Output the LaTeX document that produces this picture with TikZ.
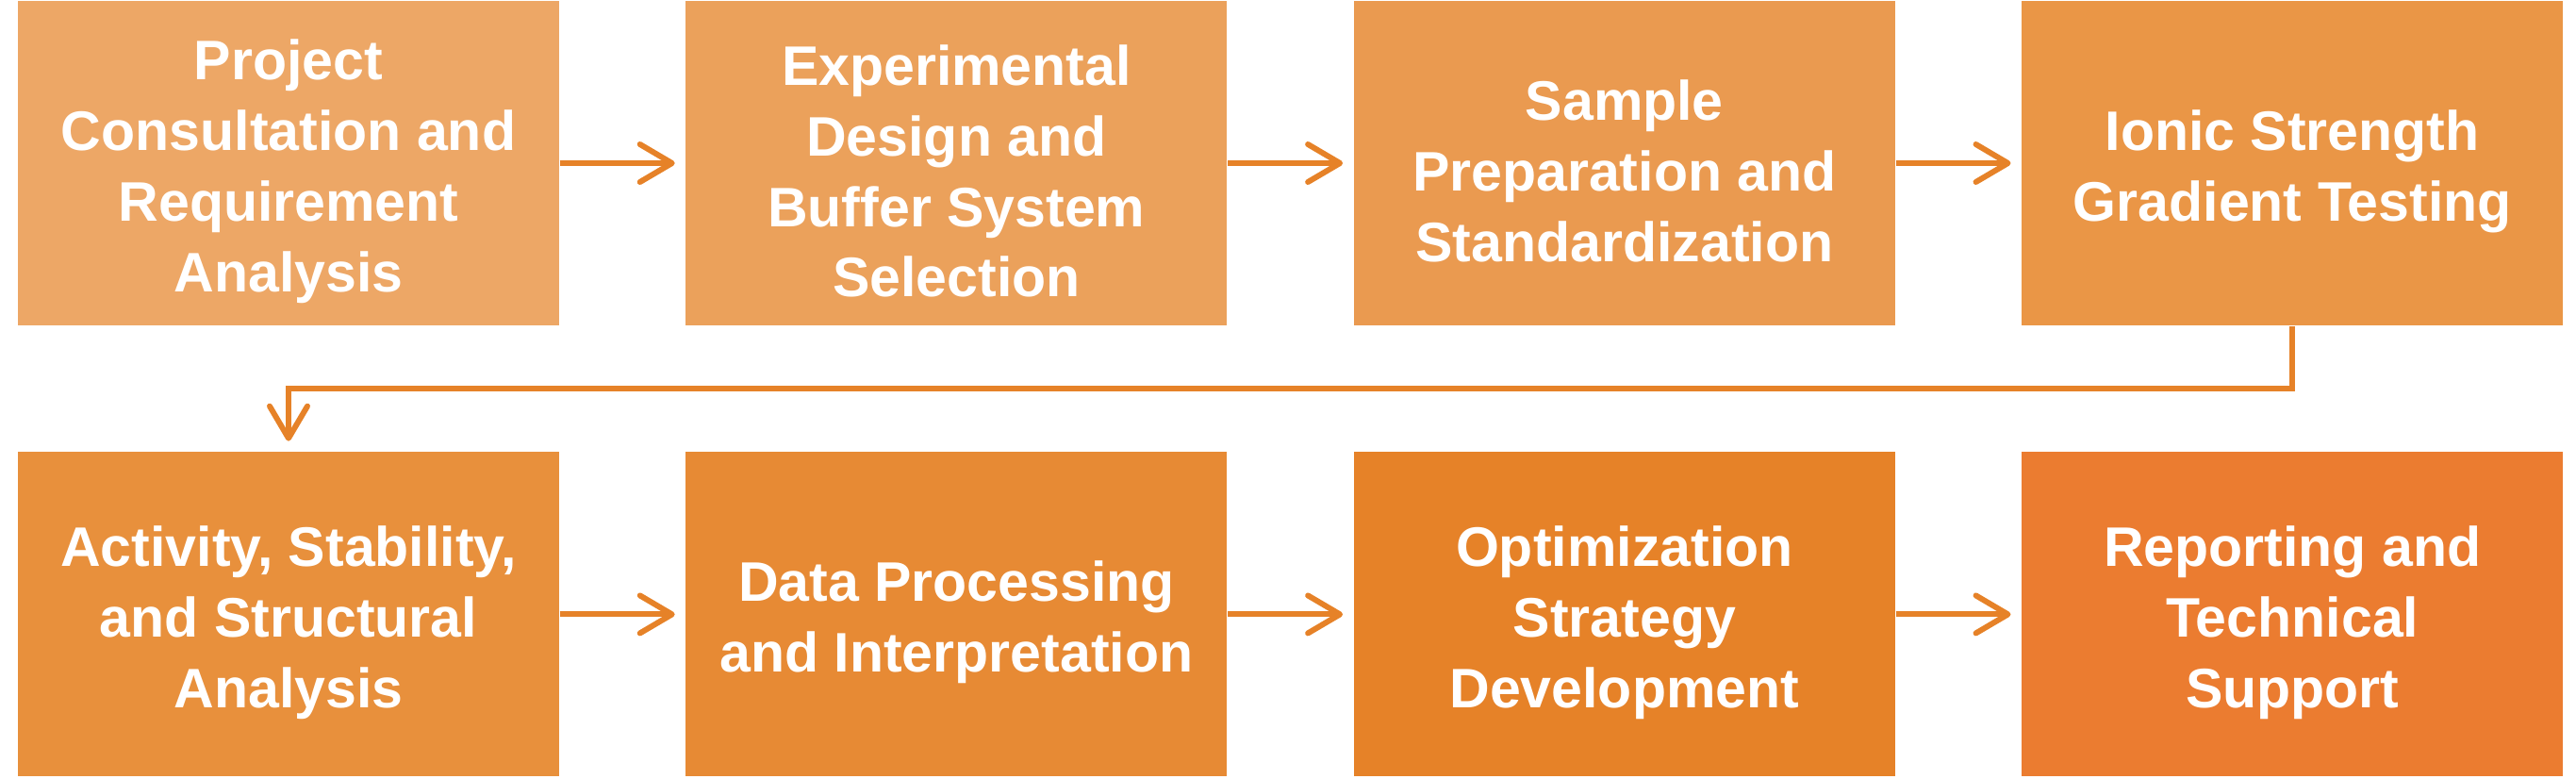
\documentclass[tikz,border=0pt]{standalone}
\usepackage{fontspec}
\setmainfont{Liberation Sans}
\usepackage{xcolor}
\usepackage{tikz}
\usetikzlibrary{arrows.meta,positioning}

\definecolor{boxA}{RGB}{237,167,102}
\definecolor{boxB}{RGB}{235,161,91}
\definecolor{boxC}{RGB}{234,154,80}
\definecolor{boxD}{RGB}{234,150,70}
\definecolor{boxE}{RGB}{232,144,60}
\definecolor{boxF}{RGB}{231,138,52}
\definecolor{boxG}{RGB}{230,130,40}
\definecolor{boxH}{RGB}{235,124,48}
\definecolor{arrowc}{RGB}{230,130,40}

\begin{document}
\begin{tikzpicture}[node distance=1.33cm,
box/.style={minimum width=5.74cm,minimum height=3.44cm,inner sep=0pt,align=center,text=white,
  font=\fontsize{16.8}{21.3}\selectfont\bfseries},
flow/.style={-{Straight Barb[length=0.34cm,width=0.4cm,line cap=round,line join=round]},arrowc,line width=1.7pt,shorten >=0.11cm}]
\useasboundingbox (0,0) rectangle (27.32,-8.25);
\node[box,fill=boxA] (consult) at (3.06,-1.73) {\rule{0pt}{17pt}Project\\Consultation and\\Requirement\\Analysis};
\node[box,fill=boxB,right=of consult] (design) {\rule{0pt}{17pt}Experimental\\Design and\\Buffer System\\Selection};
\node[box,fill=boxC,right=of design] (prep) {\rule{0pt}{17pt}Sample\\Preparation and\\Standardization};
\node[box,fill=boxD,right=of prep] (ionic) {\rule{0pt}{17pt}Ionic Strength\\Gradient Testing};
\node[box,fill=boxE,below=of consult] (activity) {\rule{0pt}{17pt}Activity, Stability,\\and Structural\\Analysis};
\node[box,fill=boxF,right=of activity] (data) {\rule{0pt}{17pt}Data Processing\\and Interpretation};
\node[box,fill=boxG,right=of data] (optim) {\rule{0pt}{17pt}Optimization\\Strategy\\Development};
\node[box,fill=boxH,right=of optim] (report) {\rule{0pt}{17pt}Reporting and\\Technical\\Support};
\draw[flow](consult)--(design);
\draw[flow](design)--(prep);
\draw[flow](prep)--(ionic);
\draw[flow](ionic.south)--++(0,-0.665)-|(activity.north);
\draw[flow](activity)--(data);
\draw[flow](data)--(optim);
\draw[flow](optim)--(report);
\end{tikzpicture}
\end{document}
